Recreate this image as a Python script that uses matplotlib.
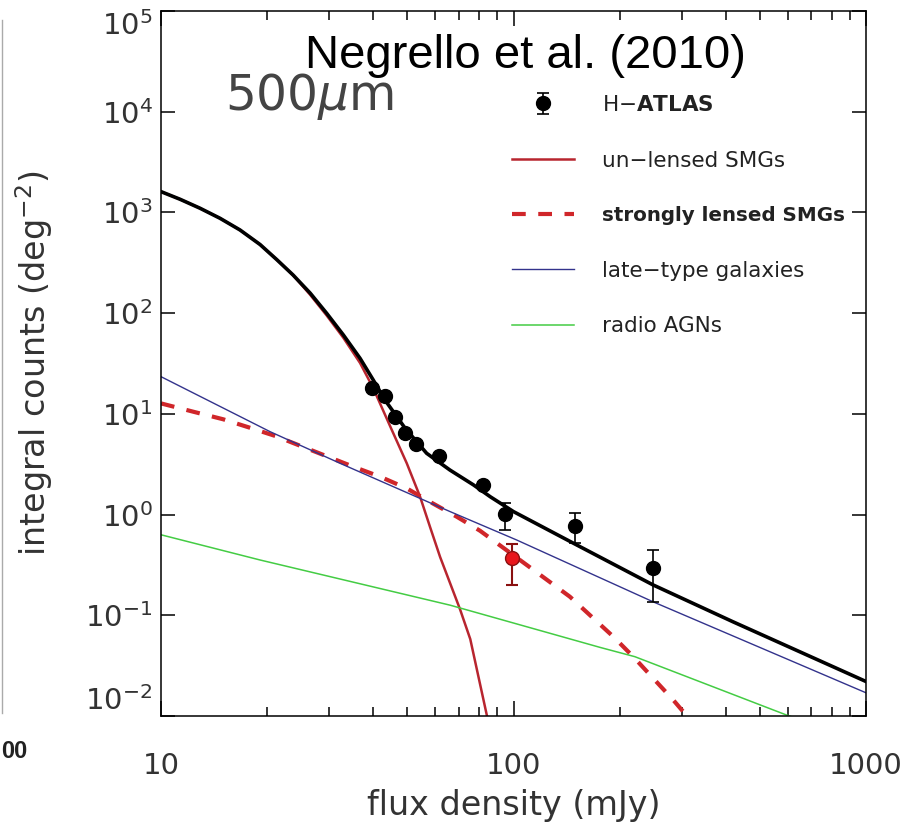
import numpy as np
import matplotlib
matplotlib.use("Agg")
from matplotlib import pyplot as plt
from matplotlib.lines import Line2D
from matplotlib.ticker import LogLocator, NullFormatter, NullLocator

# H-ATLAS 500um integral counts
obs_flux = [39.6, 43.2, 46.1, 49.2, 52.9, 61.6, 81.8, 94.6, 149.5, 249.0]
obs_counts = [17.9, 15.1, 9.4, 6.5, 5.0, 3.82, 1.95, 1.01, 0.77, 0.293]
obs_err_lo = [0.6, 0.5, 0.4, 0.3, 0.25, 0.2, 0.15, 0.31, 0.244, 0.157]
obs_err_hi = [0.6, 0.5, 0.4, 0.3, 0.25, 0.2, 0.15, 0.28, 0.275, 0.152]

# lensed candidate point
red_flux = [98.9]
red_counts = [0.368]
red_err_lo = [0.168]
red_err_hi = [0.142]

# model curves
tot_flux = [10, 11.32, 12.9, 14.7, 16.75, 19.1, 21.3, 23.7, 26.5, 29.5, 32.9, 36.7,
            40.0, 43.2, 49.2, 56.7, 66.0, 77.0, 86.0, 100, 151, 249, 420, 1000]
tot_counts = [1609, 1352, 1101, 875, 670, 480, 340, 239, 158, 99.8, 60.8, 35.6,
              21.7, 13.7, 7.24, 4.06, 2.77, 1.97, 1.5, 1.07, 0.50, 0.20, 0.086, 0.022]

unl_flux = [10, 11.32, 12.9, 14.7, 16.75, 19.1, 21.3, 23.7, 26.5, 29.5, 32.9, 36.7,
            40.0, 44.7, 49.8, 54.3, 58.0, 61.9, 70.5, 75.4, 84.1, 86.0]
unl_counts = [1609, 1352, 1101, 875, 670, 480, 340, 238, 152, 95, 57, 32,
              18, 7.5, 3.23, 1.51, 0.75, 0.38, 0.115, 0.058, 0.01, 0.008]

len_flux = [10, 12.35, 15.0, 17.7, 21.1, 35.1, 41.8, 49.8, 57.9, 69.0, 80.4, 109, 144.5, 192, 218.6, 284, 300, 320]
len_counts = [12.7, 10.5, 8.84, 7.36, 6.03, 2.99, 2.38, 1.82, 1.34, 0.953, 0.69, 0.316, 0.153, 0.0613, 0.0388, 0.0144, 0.0115, 0.009]

late_flux = [10, 20.4, 32.2, 66.1, 102, 249, 1000]
late_counts = [23.4, 6.65, 3.23, 1.07, 0.56, 0.136, 0.017]

agn_flux = [10, 19.1, 66.1, 176, 221, 596, 700]
agn_counts = [0.63, 0.354, 0.126, 0.048, 0.0388, 0.0102, 0.0085]

W, H = 910, 835
fig = plt.figure(figsize=(W / 100, H / 100), dpi=100)
ax = fig.add_axes([161 / W, 1 - 716 / H, (866 - 161) / W, (716 - 11) / H])
ax.set_xscale("log")
ax.set_yscale("log")

ax.plot(unl_flux, unl_counts, color="#b8252f", lw=1.8, label="un\u2212lensed SMGs")
ax.plot(len_flux, len_counts, color="#d0262a", lw=3, dashes=(3.3, 3.0),
        label="strongly lensed SMGs")
ax.plot(late_flux, late_counts, color="#33338c", lw=1.0, label="late\u2212type galaxies")
ax.plot(agn_flux, agn_counts, color="#44cc44", lw=1.1, label="radio AGNs")
ax.plot(tot_flux, tot_counts, color="black", lw=2.6)

ax.errorbar(obs_flux, obs_counts, yerr=[obs_err_lo, obs_err_hi], fmt="o",
            color="black", ms=10, capsize=4, elinewidth=1.2, capthick=1.2,
            label="H$-\\mathbf{ATLAS}$")
ax.errorbar(red_flux, red_counts, yerr=[red_err_lo, red_err_hi], fmt="o",
            mfc="#e8161c", mec="#8a1010", ecolor="#8a1010", ms=10, capsize=4,
            elinewidth=1.5, capthick=1.5)

ax.set_xlim(10, 1000)
ax.set_ylim(1e-2, 1e5)

ax.set_xticks([10, 100, 1000], ["10", "100", "1000"])
ax.xaxis.set_minor_locator(LogLocator(base=10, subs=np.arange(2, 10)))
ax.xaxis.set_minor_formatter(NullFormatter())
ax.set_yticks([1e-2, 1e-1, 1e0, 1e1, 1e2, 1e3, 1e4, 1e5])
ax.yaxis.set_minor_locator(NullLocator())

ax.tick_params(which="both", direction="in", top=True, right=True, width=1.1,
               colors="black", labelcolor="#333333", labelsize=21)
ax.tick_params(axis="x", which="major", length=11, pad=26)
ax.tick_params(axis="x", which="minor", length=6.5)
ax.tick_params(axis="y", which="major", length=10, pad=6)
for s in ax.spines.values():
    s.set_linewidth(1.1)

ylabs = ax.get_yticklabels()
ylabs[0].set_va("bottom")
ylabs[-1].set_va("top")

ax.set_xlabel("flux density (mJy)", fontsize=24, color="#333333")
ax.xaxis.set_label_coords(0.5, -0.1035)
ax.set_ylabel("integral counts (deg$^{-2}$)", fontsize=24, color="#333333")
ax.yaxis.set_label_coords(-0.150, 0.5)

handles, labels = ax.get_legend_handles_labels()
order = [labels.index(l) for l in ["H$-\\mathbf{ATLAS}$", "un\u2212lensed SMGs",
                                   "strongly lensed SMGs", "late\u2212type galaxies",
                                   "radio AGNs"]]
leg = ax.legend([handles[i] for i in order], [labels[i] for i in order],
                loc="upper left", bbox_to_anchor=(512 / W, 1 - 95 / H),
                bbox_transform=fig.transFigure, frameon=False, fontsize=15.5,
                borderpad=0, borderaxespad=0, handlelength=2.9,
                handletextpad=1.3, labelspacing=1.65)
for t in leg.get_texts():
    t.set_color("#222222")
leg.get_texts()[2].set_fontweight("bold")
leg.get_texts()[2].set_fontsize(14.3)

fig.text(525 / W, 1 - 68 / H, "Negrello et al. (2010)", fontsize=34,
         family="Liberation Sans", ha="center", va="baseline", color="black")
fig.text(225 / W, 1 - 110 / H, r"500$\mu$m", fontsize=35, ha="left",
         va="baseline", color="#444444")

# edge of the neighbouring panel
fig.add_artist(Line2D([1.5 / W, 1.5 / W], [1 - 20 / H, 1 - 713 / H],
                      color="#aaaaaa", lw=1))
fig.text(1 / W, 1 - 752 / H, "00", fontsize=17, family="Liberation Sans",
         weight="bold", ha="left", va="center", color="#222222")

fig.savefig("out.png", dpi=100)
